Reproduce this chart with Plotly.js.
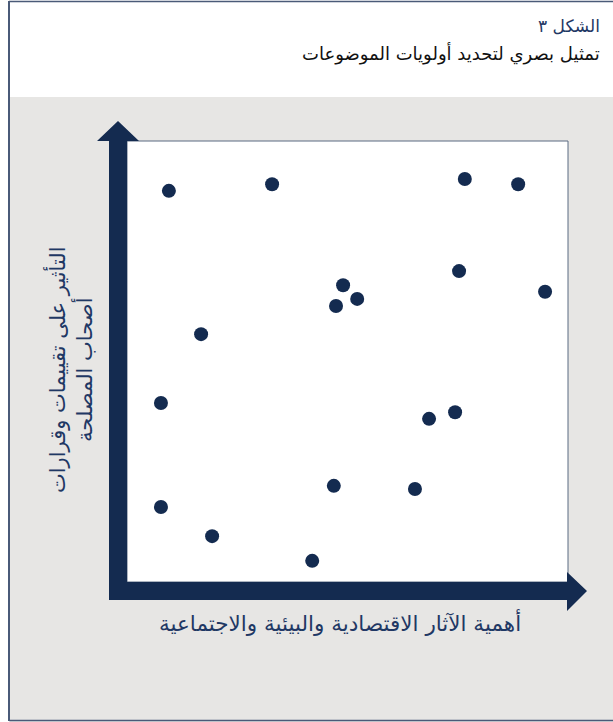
<!DOCTYPE html>
<html>
<head>
<meta charset="utf-8">
<script src="https://cdn.plot.ly/plotly-3.0.1.min.js"></script>
<style>html,body{margin:0;padding:0;background:#fff;}#chart{width:613px;height:722px;}</style>
</head>
<body>
<div id="chart"></div>
<script>
// Data (x: importance of impacts, y: influence on stakeholders), scale 0-10
var topicX = [0.95, 3.29, 7.66, 8.87, 7.53, 9.48, 4.90, 5.22, 4.74, 1.68, 0.77, 7.44, 6.85, 4.69, 6.53, 0.77, 1.93, 4.20];
var topicY = [8.87, 9.02, 9.14, 9.02, 7.05, 6.58, 6.73, 6.42, 6.26, 5.62, 4.06, 3.85, 3.70, 2.18, 2.11, 1.70, 1.04, 0.48];

var figLabel = 'الشكل ٣';
var figTitle = 'تمثيل بصري لتحديد أولويات الموضوعات';
var xTitle = 'أهمية الآثار الاقتصادية والبيئية والاجتماعية';
var yTitle = 'التأثير على تقييمات وقرارات<br>أصحاب المصلحة';

var W = 613, H = 722;
var L = 127, R = 568, T = 141, B = 582;
var navy = '#142b50';
function px(x) { return (x - L) / (R - L); }
function py(y) { return (B - y) / (B - T); }
function path(pts) {
  return 'M' + pts.map(function (p) { return px(p[0]) + ',' + py(p[1]); }).join('L') + 'Z';
}
var fam = 'DejaVu Sans, Liberation Sans, sans-serif';

var shapes = [
  // gray panel
  {type: 'rect', xref: 'paper', yref: 'paper', x0: px(10), x1: px(620), y0: py(97), y1: py(725),
   fillcolor: '#e7e6e4', line: {width: 0}, layer: 'below'},
  // white plot area
  {type: 'rect', xref: 'paper', yref: 'paper', x0: 0, x1: 1, y0: 0, y1: 1,
   fillcolor: '#ffffff', line: {color: '#5b6a82', width: 1}, layer: 'below'},
  // outer frame
  {type: 'line', xref: 'paper', yref: 'paper', x0: px(9), x1: px(620), y0: py(1.5), y1: py(1.5), line: {color: '#4a5a78', width: 1.5}},
  {type: 'line', xref: 'paper', yref: 'paper', x0: px(9), x1: px(9), y0: py(1), y1: py(721), line: {color: '#4a5a78', width: 2}},
  {type: 'line', xref: 'paper', yref: 'paper', x0: px(9), x1: px(620), y0: py(720.5), y1: py(720.5), line: {color: '#4a5a78', width: 1.5}},
  // vertical arrow
  {type: 'path', xref: 'paper', yref: 'paper', fillcolor: navy, line: {width: 0},
   path: path([[109, 600], [109, 141], [97, 141], [118, 121], [139, 141], [127, 141], [127, 600]])},
  // horizontal arrow
  {type: 'path', xref: 'paper', yref: 'paper', fillcolor: navy, line: {width: 0},
   path: path([[109, 582], [567, 582], [567, 572], [587, 591], [567, 611], [567, 600], [109, 600]])}
];

var annotations = [
  {text: figLabel, xref: 'paper', yref: 'paper', x: px(602), y: py(26), xanchor: 'right', yanchor: 'middle',
   showarrow: false, font: {family: fam, size: 17, color: '#1f3864'}},
  {text: figTitle, xref: 'paper', yref: 'paper', x: px(602), y: py(53), xanchor: 'right', yanchor: 'middle',
   showarrow: false, font: {family: fam, size: 18, color: '#111111'}},
  {text: xTitle, xref: 'paper', yref: 'paper', x: px(340), y: py(622), xanchor: 'center', yanchor: 'middle',
   showarrow: false, font: {family: fam, size: 21.5, color: '#1f3864'}},
  {text: yTitle, xref: 'paper', yref: 'paper', x: px(70), y: py(370), xanchor: 'center', yanchor: 'middle',
   textangle: -90, showarrow: false,
   font: {family: fam, size: 21, color: '#1f3864'}}
];

var trace = {
  x: topicX, y: topicY, type: 'scatter', mode: 'markers',
  marker: {size: 14, color: navy}, hoverinfo: 'skip', cliponaxis: false
};

var axis = {range: [0, 10], showgrid: false, zeroline: false, showticklabels: false, showline: false, ticks: '', fixedrange: true};

Plotly.newPlot('chart', [trace], {
  width: W, height: H,
  margin: {l: L, r: W - R, t: T, b: H - B, pad: 0},
  paper_bgcolor: '#ffffff', plot_bgcolor: 'rgba(0,0,0,0)',
  showlegend: false,
  xaxis: axis, yaxis: Object.assign({}, axis),
  shapes: shapes, annotations: annotations
}, {displayModeBar: false, staticPlot: true});
</script>
</body>
</html>
